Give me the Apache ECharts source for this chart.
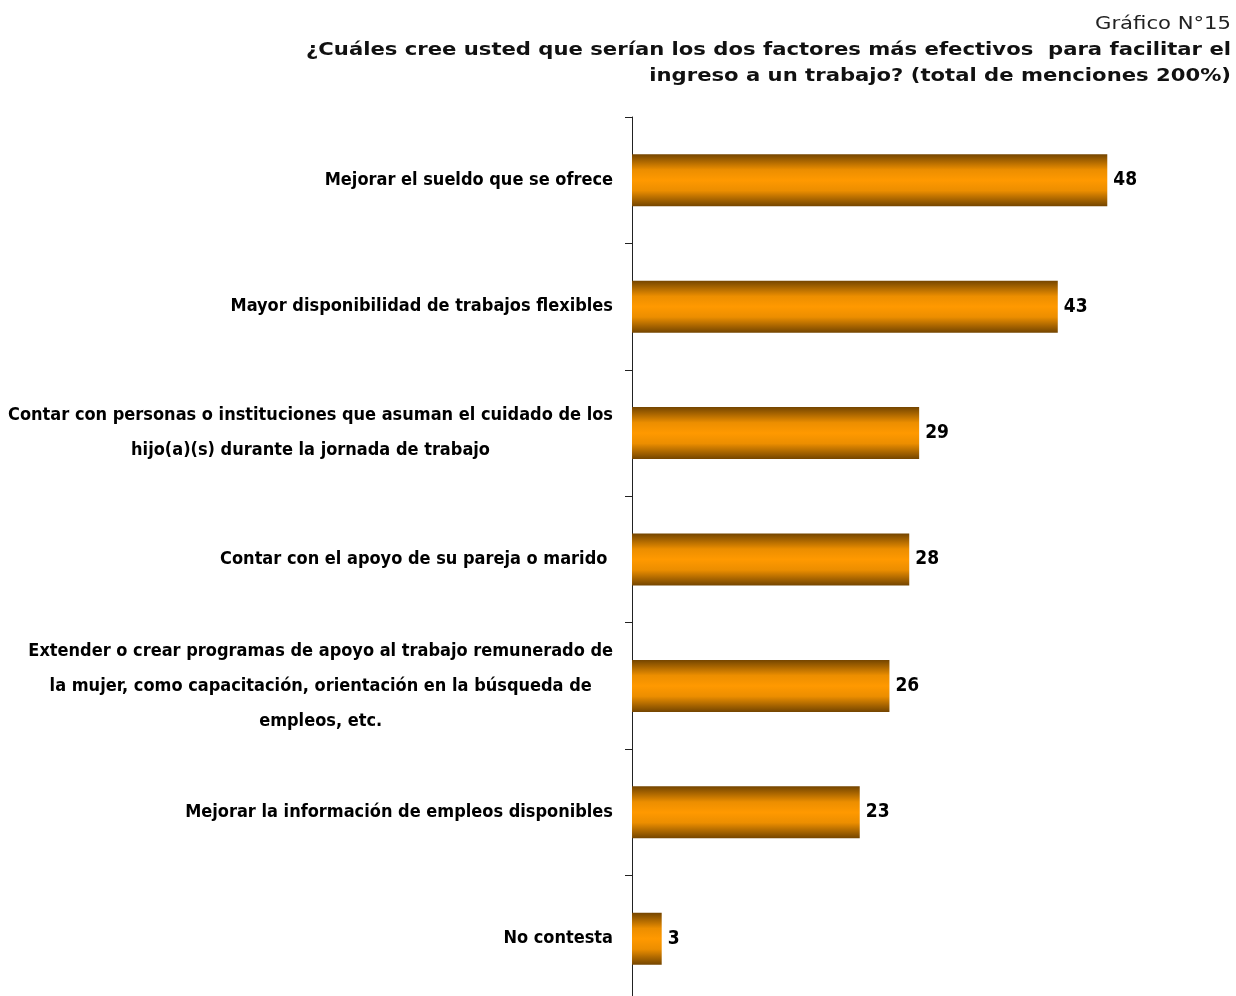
<!DOCTYPE html>
<html><head><meta charset="utf-8">
<script src="https://cdn.jsdelivr.net/npm/echarts@6/dist/echarts.min.js"></script>
<style>html,body{margin:0;padding:0;background:#fff}#c{width:1236px;height:996px}</style>
</head><body><div id="c"></div>
<script>
const categories = [
  'Mejorar el sueldo que se ofrece',
  'Mayor disponibilidad de trabajos flexibles',
  'Contar con personas o instituciones que asuman el cuidado de los\nhijo(a)(s) durante la jornada de trabajo',
  'Contar con el apoyo de su pareja o marido ',
  'Extender o crear programas de apoyo al trabajo remunerado de\nla mujer, como capacitación, orientación en la búsqueda de\nempleos, etc.',
  'Mejorar la información de empleos disponibles',
  'No contesta'
];
const values = [48, 43, 29, 28, 26, 23, 3];
const chartNumber = 'Gráfico N°15';
const chartTitle = '¿Cuáles cree usted que serían los dos factores más efectivos  para facilitar el\ningreso a un trabajo? (total de menciones 200%)';

const labelFont = "'DejaVu Sans Condensed','Liberation Sans Narrow',sans-serif";
const chart = echarts.init(document.getElementById('c'));
chart.setOption({
  animation: false,
  graphic: [
    { type: 'text', x: 1231, y: 15, scaleX: 1.175,
      style: { text: chartNumber, align: 'right', textAlign: 'right', verticalAlign: 'top', textVerticalAlign: 'top',
        font: 'normal 18px "DejaVu Sans"', fill: '#222' } },
    { type: 'text', x: 1231, y: 37, scaleX: 1.175,
      style: { text: chartTitle, align: 'right', textAlign: 'right', verticalAlign: 'top', textVerticalAlign: 'top',
        font: 'bold 18px "DejaVu Sans"', lineHeight: 26, fill: '#111' } }
  ],
  grid: { left: 632, right: 0, top: 117, height: 885, containLabel: false, outerBoundsMode: 'none' },
  xAxis: { type: 'value', min: 0, max: 61, show: false },
  yAxis: {
    type: 'category', data: categories, inverse: true,
    axisLine: { lineStyle: { color: '#222', width: 1 } },
    axisTick: { show: true, length: 7, lineStyle: { color: '#222' } },
    axisLabel: {
      margin: 19, color: '#000',
      formatter: v => '{a|' + v + '}',
      rich: { a: { fontFamily: labelFont, fontWeight: 'bold', fontSize: 18, lineHeight: 35, align: 'center', color: '#000' } }
    }
  },
  series: [{
    type: 'bar', data: values, barWidth: 52,
    itemStyle: {
      color: new echarts.graphic.LinearGradient(0, 0, 0, 1, [
        { offset: 0, color: '#744500' },
        { offset: 0.3, color: '#ec8e00' },
        { offset: 0.5, color: '#ff9900' },
        { offset: 0.7, color: '#ec8e00' },
        { offset: 1, color: '#744500' }
      ])
    },
    label: { show: true, position: 'right', distance: 6, color: '#000',
      fontFamily: labelFont, fontWeight: 'bold', fontSize: 19 }
  }]
});
</script></body></html>
